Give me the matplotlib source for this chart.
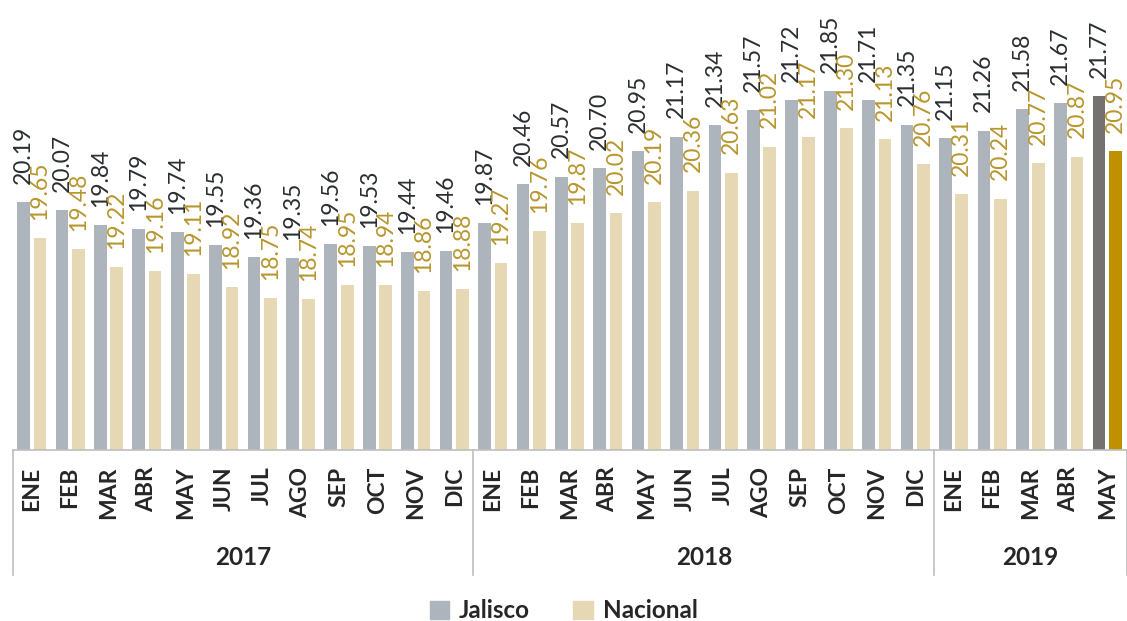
import matplotlib
matplotlib.use("Agg")
import matplotlib.pyplot as plt
from matplotlib.patches import Patch
import matplotlib.transforms as mtransforms

plt.rcParams['font.family'] = ['Lato', 'DejaVu Sans']

months = ["ENE", "FEB", "MAR", "ABR", "MAY", "JUN", "JUL", "AGO", "SEP", "OCT", "NOV", "DIC",
          "ENE", "FEB", "MAR", "ABR", "MAY", "JUN", "JUL", "AGO", "SEP", "OCT", "NOV", "DIC",
          "ENE", "FEB", "MAR", "ABR", "MAY"]
years = ["2017", "2018", "2019"]
year_sizes = [12, 12, 5]
jalisco = [20.19, 20.07, 19.84, 19.79, 19.74, 19.55, 19.36, 19.35, 19.56, 19.53, 19.44, 19.46,
           19.87, 20.46, 20.57, 20.70, 20.95, 21.17, 21.34, 21.57, 21.72, 21.85, 21.71, 21.35,
           21.15, 21.26, 21.58, 21.67, 21.77]
nacional = [19.65, 19.48, 19.22, 19.16, 19.11, 18.92, 18.75, 18.74, 18.95, 18.94, 18.86, 18.88,
            19.27, 19.76, 19.87, 20.02, 20.19, 20.36, 20.63, 21.02, 21.17, 21.30, 21.13, 20.76,
            20.31, 20.24, 20.77, 20.87, 20.95]

c_jal, c_nac = "#ADB4BB", "#E6D8B4"
c_jal_last, c_nac_last = "#767171", "#BF9000"
lbl_jal, lbl_nac = "#2B2E31", "#B8962F"

fig = plt.figure(figsize=(11.27, 6.21), dpi=100)
ax = fig.add_axes([12.5 / 1127, 1 - 450 / 621, 1114 / 1127, 450 / 621])

n = len(months)
x = list(range(n))
off, w = 0.213, 0.33
cols_j = [c_jal] * (n - 1) + [c_jal_last]
cols_n = [c_nac] * (n - 1) + [c_nac_last]
ax.bar([i - off for i in x], jalisco, w, color=cols_j, zorder=2)
ax.bar([i + off for i in x], nacional, w, color=cols_n, zorder=2)

for i in x:
    ax.annotate(f"{jalisco[i]:.2f}", (i - off, jalisco[i]), xytext=(0, 13),
                textcoords="offset points", rotation=90, ha="center", va="bottom",
                fontsize=16.5, color=lbl_jal, annotation_clip=False)
    ax.annotate(f"{nacional[i]:.2f}", (i + off, nacional[i]), xytext=(0, 13),
                textcoords="offset points", rotation=90, ha="center", va="bottom",
                fontsize=16.5, color=lbl_nac, annotation_clip=False)

ax.set_xlim(-0.5, n - 0.5)
ax.set_ylim(16.47, 16.47 + 450 / 66.7)
for s in ["top", "left", "right"]:
    ax.spines[s].set_visible(False)
ax.spines["bottom"].set_color("#BFBFBF")
ax.spines["bottom"].set_linewidth(1.2)
ax.yaxis.set_visible(False)
ax.set_xticks(x)
ax.set_xticklabels(months, rotation=90, fontweight="bold", fontsize=16.5, color="#262626")
ax.tick_params(axis="x", length=0, pad=12)

trans = mtransforms.blended_transform_factory(ax.transData, ax.transAxes)
start = -0.5
ax.plot([start, start], [0, -0.278], color="#BFBFBF", lw=1.2, transform=trans, clip_on=False)
for yr, sz in zip(years, year_sizes):
    end = start + sz
    ax.plot([end, end], [0, -0.278], color="#BFBFBF", lw=1.2, transform=trans, clip_on=False)
    ax.text((start + end) / 2, -0.238, yr, transform=trans, ha="center", va="center",
            fontsize=17.5, fontweight="bold", color="#262626")
    start = end

handles = [Patch(color=c_jal, label="Jalisco"), Patch(color=c_nac, label="Nacional")]
fig.legend(handles=handles, loc="center", bbox_to_anchor=(0.5, 1 - 611 / 621), ncol=2,
           frameon=False, prop={"weight": "bold", "size": 17.5}, handlelength=0.8,
           handleheight=0.8, handletextpad=0.4, columnspacing=1.8, labelcolor="#262626")

fig.savefig("out.png", dpi=100)
